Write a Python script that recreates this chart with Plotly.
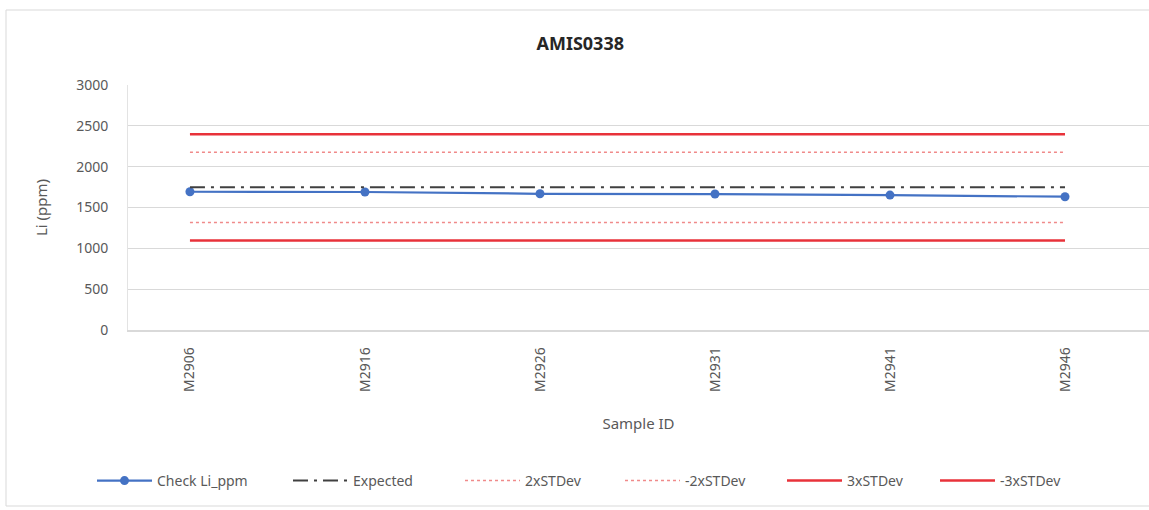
import plotly.graph_objects as go

samples = ["M2906", "M2916", "M2926", "M2931", "M2941", "M2946"]
check_li = [1693, 1690, 1668, 1665, 1652, 1632]
expected = [1747] * 6
plus2sd = [2177] * 6
minus2sd = [1317] * 6
plus3sd = [2397] * 6
minus3sd = [1097] * 6
y_ticks = [0, 500, 1000, 1500, 2000, 2500, 3000]

xs = list(range(len(samples)))
FONT = "Noto Sans"
GREY = "#595959"

fig = go.Figure()
fig.add_trace(go.Scatter(x=xs, y=check_li, name="Check Li_ppm", mode="lines+markers",
                         line=dict(color="#4472c4", width=2.2), legendwidth=126,
                         marker=dict(size=9, color="#4472c4")))
fig.add_trace(go.Scatter(x=xs, y=expected, name="Expected", mode="lines", legendwidth=102,
                         line=dict(color="#404040", width=2, dash="longdashdot")))
fig.add_trace(go.Scatter(x=xs, y=plus2sd, name="2xSTDev", mode="lines", legendwidth=90,
                         line=dict(color="#f08a8a", width=1.5, dash="dot")))
fig.add_trace(go.Scatter(x=xs, y=minus2sd, name="-2xSTDev", mode="lines", legendwidth=92,
                         line=dict(color="#f08a8a", width=1.5, dash="dot")))
fig.add_trace(go.Scatter(x=xs, y=plus3sd, name="3xSTDev", mode="lines", legendwidth=83,
                         line=dict(color="#e8323a", width=2.5)))
fig.add_trace(go.Scatter(x=xs, y=minus3sd, name="-3xSTDev", mode="lines", legendwidth=100,
                         line=dict(color="#e8323a", width=2.5)))

fig.update_layout(
    width=1149, height=510,
    margin=dict(l=128, r=0, t=85, b=180, autoexpand=False),
    paper_bgcolor="white", plot_bgcolor="white",
    font=dict(family=FONT, color=GREY, size=13),
    title=dict(text="<b>AMIS0338</b>", x=0.505, xanchor="center", y=0.915, yanchor="middle",
               font=dict(size=18, color="#262626", family=FONT)),
    showlegend=True,
    legend=dict(orientation="h", x=(92 - 128) / 1021, xanchor="left", y=(330 - 481) / 245,
                yanchor="middle", entrywidthmode="pixels",
                font=dict(size=14, color=GREY), itemwidth=55, bgcolor="rgba(0,0,0,0)"),
)
fig.update_xaxes(
    range=[-0.354, 5.48], tickmode="array", tickvals=xs, ticktext=samples,
    tickangle=-90, showgrid=False, zeroline=False, showline=True, linecolor="#d9d9d9",
    linewidth=1.5, ticks="", tickfont=dict(size=14, color=GREY), ticklabelstandoff=10,
    title=dict(text="Sample ID", font=dict(size=15, color=GREY), standoff=27),
)
fig.update_yaxes(
    range=[0, 3000], tickmode="array", tickvals=y_ticks,
    showgrid=True, gridcolor="#d9d9d9", gridwidth=1.3, zeroline=False,
    showline=True, linecolor="#e3e3e3", ticks="", tickfont=dict(size=14, color=GREY),
    ticklabelstandoff=16,
    title=dict(text="Li (ppm)", font=dict(size=15, color=GREY), standoff=24),
)
fig.add_shape(type="rect", xref="paper", yref="paper",
              x0=(6 - 128) / 1021, x1=(1160 - 128) / 1021,
              y0=(330 - 506) / 245, y1=(330 - 10) / 245,
              line=dict(color="#d9d9d9", width=1), layer="below")
fig.write_html("out.html")
